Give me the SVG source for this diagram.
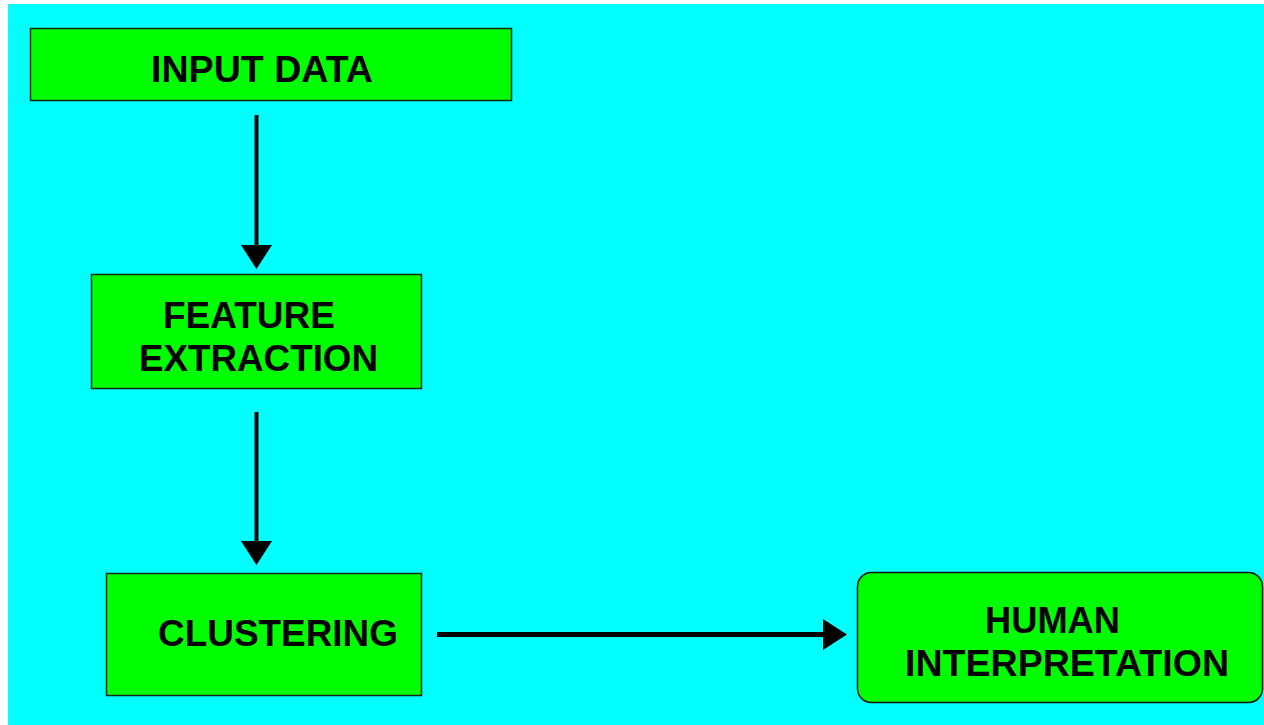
<svg xmlns="http://www.w3.org/2000/svg" width="1264" height="725" viewBox="0 0 1264 725">
  <defs>
    <style>
      .box { fill: #00ff00; stroke: #142814; stroke-width: 1.5; }
      .label { font-family: "Liberation Sans", Arial, sans-serif; font-weight: bold; font-size: 37px; fill: #000; }
      .flow { stroke: #000; stroke-width: 4; fill: none; }
    </style>
    <marker id="head" markerUnits="userSpaceOnUse" markerWidth="24" markerHeight="31" refX="0" refY="15.5" orient="auto">
      <path d="M0,0 L24,15.5 L0,31 Z" fill="#000"/>
    </marker>
  </defs>

  <!-- page background -->
  <rect x="8" y="4" width="1256" height="721" fill="#00ffff"/>

  <g id="input-data">
    <rect class="box" x="30.5" y="28.5" width="481" height="72"/>
    <text class="label" x="151" y="82" textLength="222" lengthAdjust="spacingAndGlyphs">INPUT DATA</text>
  </g>

  <g id="feature-extraction">
    <rect class="box" x="91.5" y="274.5" width="330" height="114"/>
    <text class="label" x="163" y="328" textLength="172" lengthAdjust="spacingAndGlyphs">FEATURE</text>
    <text class="label" x="139" y="371" textLength="239" lengthAdjust="spacingAndGlyphs">EXTRACTION</text>
  </g>

  <g id="clustering">
    <rect class="box" x="106.5" y="573.5" width="315" height="122"/>
    <text class="label" x="158" y="646" textLength="240" lengthAdjust="spacingAndGlyphs">CLUSTERING</text>
  </g>

  <g id="human-interpretation">
    <rect class="box" x="857.5" y="572.5" width="405" height="130" rx="14" ry="14" style="stroke:#111"/>
    <text class="label" x="985" y="633" textLength="135" lengthAdjust="spacingAndGlyphs">HUMAN</text>
    <text class="label" x="905" y="676" textLength="324" lengthAdjust="spacingAndGlyphs">INTERPRETATION</text>
  </g>

  <g id="connectors">
    <line class="flow" x1="256.5" y1="115" x2="256.5" y2="245" marker-end="url(#head)"/>
    <line class="flow" x1="256.5" y1="412" x2="256.5" y2="541" marker-end="url(#head)"/>
    <line class="flow" x1="437" y1="634.5" x2="823" y2="634.5" style="stroke-width:5" marker-end="url(#head)"/>
  </g>
</svg>
